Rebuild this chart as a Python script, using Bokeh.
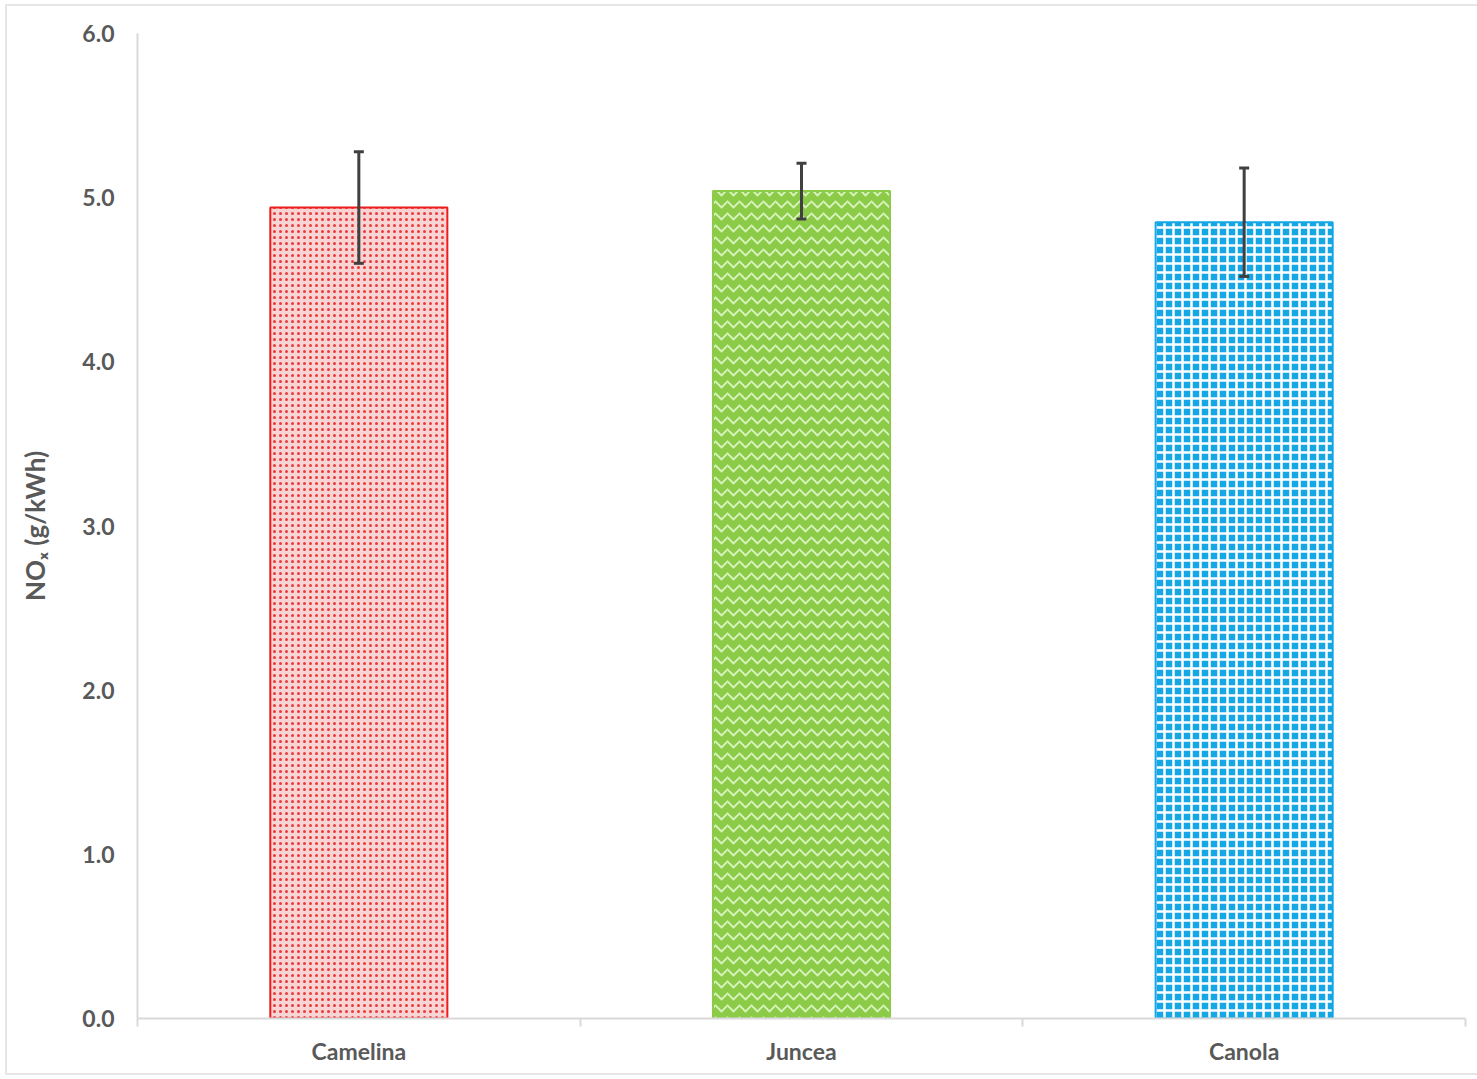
from bokeh.plotting import figure
from bokeh.models import ColumnDataSource, Range1d, FixedTicker, Whisker, TeeHead
from bokeh.embed import file_html
from bokeh.resources import INLINE

# NOx emissions by feedstock, mean with error bar half-widths
categories = ["Camelina", "Juncea", "Canola"]
nox = [4.94, 5.04, 4.85]
nox_err = [0.34, 0.17, 0.33]
y_ticks = [0.0, 1.0, 2.0, 3.0, 4.0, 5.0, 6.0]

fill_colors = ["#f9d4d4", "#8ccb48", "#15a6e6"]
line_colors = ["#ee1c1c", "#8ccb48", "#15a6e6"]
hatch_patterns = [".", "v", "+"]
hatch_colors = ["#e83a3a", "#d8f3bd", "#ffffff"]
hatch_scales = [6, 12, 9]
hatch_weights = [1, 1.8, 2.5]

xpos = [i + 0.5 for i in range(len(categories))]
src = ColumnDataSource(dict(
    x=xpos, top=nox,
    upper=[v + e for v, e in zip(nox, nox_err)],
    lower=[v - e for v, e in zip(nox, nox_err)],
))

p = figure(
    width=1470, height=1067,
    x_range=Range1d(0, len(categories)), y_range=Range1d(0, 6),
    output_backend="svg", toolbar_location=None,
    min_border_left=130, min_border_top=27,
    min_border_right=12, min_border_bottom=55,
    margin=(6, 0, 0, 7),
    styles={"outline": "2px solid #e6e6e6"},
)
p.outline_line_color = None
p.grid.visible = False

for i in range(len(categories)):
    p.vbar(x=xpos[i], top=nox[i], bottom=0, width=0.4,
           fill_color=fill_colors[i], line_color=line_colors[i], line_width=2,
           hatch_pattern=hatch_patterns[i], hatch_color=hatch_colors[i],
           hatch_scale=hatch_scales[i], hatch_weight=hatch_weights[i])

p.add_layout(Whisker(
    source=src, base="x", upper="upper", lower="lower", level="overlay",
    line_color="#404040", line_width=3,
    upper_head=TeeHead(size=10, line_color="#404040", line_width=3),
    lower_head=TeeHead(size=10, line_color="#404040", line_width=3),
))

tick_color = "#595959"
axis_col = "#d9d9d9"

# category axis: labels at bar centres, short ticks at category boundaries
p.xaxis.ticker = FixedTicker(ticks=xpos, minor_ticks=list(range(len(categories) + 1)))
p.xaxis.major_label_overrides = {x: c for x, c in zip(xpos, categories)}
p.xaxis.major_tick_line_color = None
p.xaxis.major_tick_out = 0
p.xaxis.major_tick_in = 0
p.xaxis.minor_tick_line_color = axis_col
p.xaxis.minor_tick_line_width = 2
p.xaxis.minor_tick_out = 8
p.xaxis.minor_tick_in = 0
p.xaxis.axis_line_color = axis_col
p.xaxis.axis_line_width = 2
p.xaxis.major_label_standoff = 10

p.yaxis.ticker = FixedTicker(ticks=y_ticks)
p.yaxis.major_label_overrides = {v: f"{v:.1f}" for v in y_ticks}
p.yaxis.major_tick_line_color = None
p.yaxis.minor_tick_line_color = None
p.yaxis.major_tick_out = 0
p.yaxis.major_tick_in = 0
p.yaxis.axis_line_color = axis_col
p.yaxis.axis_line_width = 2
p.yaxis.major_label_standoff = 23
p.yaxis.axis_label = "NOₓ (g/kWh)"
p.yaxis.axis_label_standoff = 28

for ax in (p.xaxis, p.yaxis):
    ax.major_label_text_font = "Lato"
    ax.major_label_text_font_style = "bold"
    ax.major_label_text_font_size = "23px"
    ax.major_label_text_color = tick_color
    ax.axis_label_text_font = "Lato"
    ax.axis_label_text_font_style = "bold"
    ax.axis_label_text_font_size = "26px"
    ax.axis_label_text_color = tick_color

open("out.html", "w").write(file_html(p, INLINE))
